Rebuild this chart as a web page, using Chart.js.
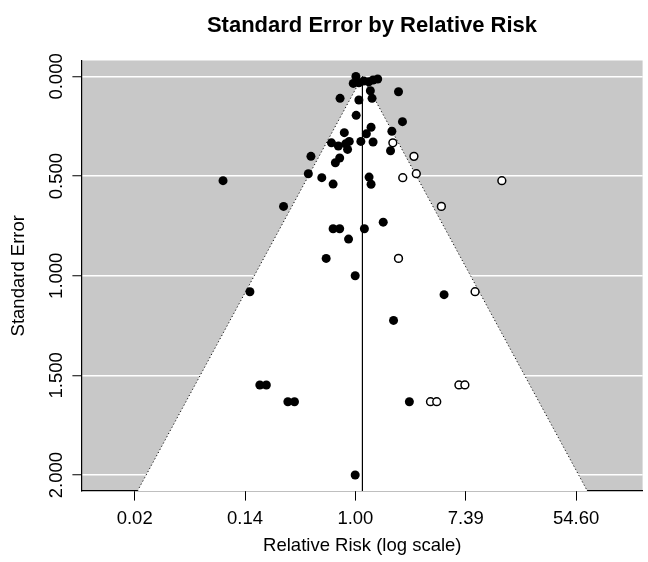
<!DOCTYPE html>
<html>
<head>
<meta charset="utf-8">
<title>Standard Error by Relative Risk</title>
<script src="https://cdn.jsdelivr.net/npm/chart.js@4.4.1/dist/chart.umd.min.js"></script>
<style>
  html, body { margin: 0; padding: 0; background: #fff; }
  canvas { display: block; }
</style>
</head>
<body>
<canvas id="funnel" width="648" height="562"></canvas>
<script>
const observedLogRR = [
  0.009, -0.039, 0.063, 0.153, 0.242, 0.320, 0.404, 0.271, 0.781, -0.278,
  0.063, 0.302, 0.014, 0.853, 0.284, 0.661, -0.201, 0.199, -0.434, -0.111,
  0.099, 0.320, -0.309, -0.178, -0.142, 0.637, -0.806, -0.285, -0.363, -0.853,
  -2.399, -0.609, 0.248, -0.404, 0.284, -1.302, 0.504, -0.404, -0.285, 0.163,
  -0.124, -0.530, -0.004, -1.912, 1.607, 0.691, -1.732, -1.614, -1.224, -1.104,
  0.978, -0.004
];
const observedSE = [
  0.000, 0.035, 0.032, 0.023, 0.027, 0.018, 0.013, 0.072, 0.077, 0.110,
  0.118, 0.110, 0.195, 0.227, 0.255, 0.275, 0.282, 0.288, 0.333, 0.326,
  0.326, 0.329, 0.349, 0.338, 0.366, 0.373, 0.401, 0.409, 0.433, 0.488,
  0.523, 0.508, 0.505, 0.540, 0.541, 0.652, 0.731, 0.764, 0.764, 0.764,
  0.816, 0.913, 1.000, 1.080, 1.095, 1.224, 1.548, 1.548, 1.632, 1.632,
  1.632, 2.000
];

// imputed (trim and fill) studies, drawn as open circles
const filledLogRR = [0.679, 1.061, 1.104, 0.858, 2.654, 1.558, 0.781, 2.169, 1.876, 1.984, 1.361, 1.474];
const filledSE    = [0.333, 0.401, 0.488, 0.508, 0.523, 0.652, 0.913, 1.080, 1.548, 1.548, 1.632, 1.632];

const pooledLogRR = 0.127;

const xTickValues = [-4, -2, 0, 2, 4];
const xTickLabels = ['0.02', '0.14', '1.00', '7.39', '54.60'];
const yTickValues = [0, 0.5, 1, 1.5, 2];
const yTickLabels = ['0.000', '0.500', '1.000', '1.500', '2.000'];

const xMin = -4.955, xMax = 5.205;
const yMin = -0.08, yMax = 2.08;

const FONT = '"Liberation Sans", Arial, Helvetica, sans-serif';
const TEXT_SIZE = 18.5;

const toPoints = (xs, ys) => xs.map((x, i) => ({ x: x, y: ys[i] }));

// gray panel behind everything
const panelBackground = {
  id: 'panelBackground',
  beforeDraw(chart) {
    const { ctx, chartArea: a } = chart;
    ctx.save();
    ctx.fillStyle = '#c8c8c8';
    ctx.fillRect(a.left, a.top, a.right - a.left, a.bottom - a.top);
    ctx.restore();
  }
};

// R style rotated y tick labels and the main title
const extraText = {
  id: 'extraText',
  afterDraw(chart) {
    const { ctx } = chart;
    const yScale = chart.scales.y;
    ctx.save();
    ctx.fillStyle = '#000';
    ctx.font = TEXT_SIZE + 'px ' + FONT;
    ctx.textAlign = 'center';
    ctx.textBaseline = 'alphabetic';
    yTickValues.forEach((v, i) => {
      ctx.save();
      ctx.translate(61.5, yScale.getPixelForValue(v));
      ctx.rotate(-Math.PI / 2);
      ctx.fillText(yTickLabels[i], 0, 0);
      ctx.restore();
    });
    // the original panel runs a little past the right edge, so the title sits right of centre
    ctx.font = 'bold 22px ' + FONT;
    ctx.fillText('Standard Error by Relative Risk', 372, 32);
    ctx.restore();
  }
};

const funnelEdge = [
  { x: pooledLogRR - 1.96 * yMax, y: yMax },
  { x: pooledLogRR, y: 0 },
  { x: pooledLogRR + 1.96 * yMax, y: yMax }
];

new Chart(document.getElementById('funnel'), {
  type: 'scatter',
  data: {
    datasets: [
      {
        data: toPoints(observedLogRR, observedSE),
        order: 0,
        pointRadius: 4.5,
        pointBackgroundColor: '#000',
        pointBorderWidth: 0,
        pointHoverRadius: 4.5
      },
      {
        data: toPoints(filledLogRR, filledSE),
        order: 1,
        pointRadius: 3.9,
        pointBackgroundColor: '#fff',
        pointBorderColor: '#000',
        pointBorderWidth: 1.5,
        pointHoverRadius: 3.9
      },
      {
        type: 'line',
        data: [{ x: pooledLogRR, y: 0 }, { x: pooledLogRR, y: yMax }],
        order: 2,
        borderColor: '#000',
        borderWidth: 1.2,
        pointRadius: 0,
        fill: false
      },
      {
        type: 'line',
        data: funnelEdge,
        order: 3,
        borderColor: '#111',
        borderWidth: 1,
        borderDash: [1.2, 2.4],
        pointRadius: 0,
        tension: 0,
        backgroundColor: '#fff',
        fill: { value: yMax }
      }
    ]
  },
  options: {
    responsive: false,
    animation: false,
    events: [],
    devicePixelRatio: 1,
    layout: { padding: { top: 60.5, right: 0, bottom: 0, left: 0 } },
    plugins: {
      legend: { display: false },
      tooltip: { enabled: false },
      title: { display: false }
    },
    scales: {
      x: {
        type: 'linear',
        min: xMin,
        max: xMax,
        afterBuildTicks: s => { s.ticks = xTickValues.map(v => ({ value: v })); },
        afterFit: s => { s.height = 71; },
        ticks: {
          color: '#000',
          font: { family: FONT, size: TEXT_SIZE },
          padding: 7,
          maxRotation: 0,
          autoSkip: false,
          callback: v => xTickLabels[xTickValues.indexOf(v)]
        },
        grid: {
          drawOnChartArea: false,
          drawTicks: true,
          tickLength: 9.6,
          tickColor: '#000',
          tickWidth: 1
        },
        border: { display: true, color: '#000', width: 1.2 },
        title: {
          display: true,
          text: 'Relative Risk (log scale)',
          color: '#000',
          font: { family: FONT, size: TEXT_SIZE },
          padding: { top: 0, bottom: 5 }
        }
      },
      y: {
        type: 'linear',
        reverse: true,
        min: yMin,
        max: yMax,
        afterBuildTicks: s => { s.ticks = yTickValues.map(v => ({ value: v })); },
        afterFit: s => { s.width = 82; },
        ticks: { display: false },
        grid: {
          color: '#fff',
          lineWidth: 1.5,
          drawTicks: true,
          tickLength: 9.6,
          tickColor: '#000',
          tickWidth: 1
        },
        border: { display: true, color: '#000', width: 1.2 },
        title: {
          display: true,
          text: 'Standard Error',
          color: '#000',
          font: { family: FONT, size: TEXT_SIZE },
          padding: { top: 8, bottom: 0 }
        }
      }
    }
  },
  plugins: [panelBackground, extraText]
});
</script>
</body>
</html>
